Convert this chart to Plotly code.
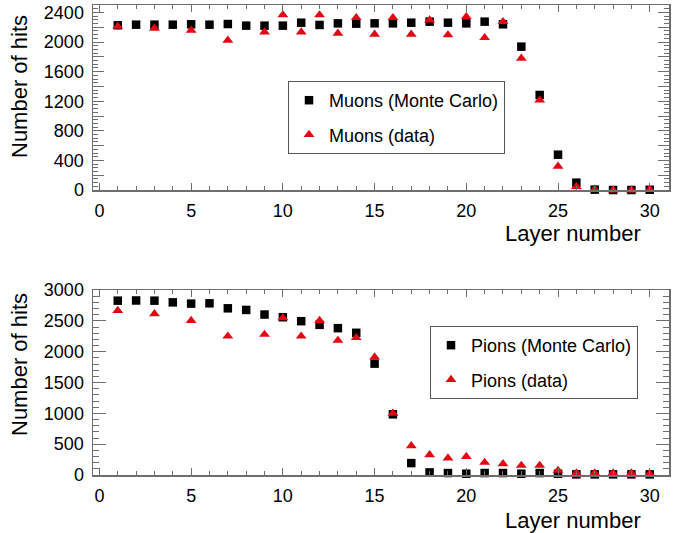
import plotly.graph_objects as go

# ---------------- data ----------------
layers = list(range(1, 31))

muon_mc = [2226, 2234, 2234, 2234, 2239, 2234, 2243, 2221, 2221, 2221,
           2261, 2230, 2252, 2248, 2252, 2252, 2261, 2275, 2261, 2252,
           2275, 2239, 1937, 1284, 477, 99, 5, 0, 0, 3]
muon_data = [2212, None, 2185, None, 2158, None, 2023, None, 2135, 2365,
             2135, 2365, 2117, 2329, 2104, 2329, 2104, 2297, 2095, 2342,
             2058, 2274, 1779, 1216, 320, 45, 10, 0, 0, 8]

pion_mc = [2827, 2830, 2827, 2800, 2779, 2784, 2703, 2677, 2602, 2558,
           2494, 2435, 2381, 2306, 1806, 984, 193, 42, 32, 21,
           32, 32, 21, 32, 20, 10, 10, 10, 10, 10]
pion_data = [2666, None, 2613, None, 2505, None, 2252, None, 2279, 2548,
             2252, 2505, 2182, 2226, 1913, 1000, 473, 327, 274, 300,
             203, 182, 156, 156, 74, 32, 32, 32, 32, 21]

muon_yticks = list(range(0, 2401, 200))
muon_yticktext = [str(v) if v % 400 == 0 else "" for v in muon_yticks]
pion_yticks = [0, 500, 1000, 1500, 2000, 2500, 3000]

# ---------------- style ----------------
FONT = "Liberation Sans, Arial, sans-serif"
RED = "#e30613"
AXC = "#6e6e6e"
W, H = 675, 533
ML, MR, MT, MB = 93, 6, 5, 58
PW = W - ML - MR
PH = H - MT - MB


def px2x(px):
    return (px - ML) / PW


def px2y(py):
    return 1 - (py - MT) / PH


fig = go.Figure()

fig.add_trace(go.Scatter(x=layers, y=muon_mc, mode="markers", name="Muons (Monte Carlo)",
                         marker=dict(symbol="square", size=8.5, color="black"),
                         xaxis="x", yaxis="y", legend="legend", legendgroup="a", cliponaxis=False))
fig.add_trace(go.Scatter(x=layers, y=muon_data, mode="markers", name="Muons (data)",
                         marker=dict(symbol="triangle-up", size=9.5, color=RED),
                         xaxis="x", yaxis="y", legend="legend", legendgroup="b", cliponaxis=False))
fig.add_trace(go.Scatter(x=layers, y=pion_mc, mode="markers", name="Pions (Monte Carlo)",
                         marker=dict(symbol="square", size=8.5, color="black"),
                         xaxis="x2", yaxis="y2", legend="legend2", legendgroup="c", cliponaxis=False))
fig.add_trace(go.Scatter(x=layers, y=pion_data, mode="markers", name="Pions (data)",
                         marker=dict(symbol="triangle-up", size=9.5, color=RED),
                         xaxis="x2", yaxis="y2", legend="legend2", legendgroup="d", cliponaxis=False))

top_dom = [px2y(190), 1.0]
bot_dom = [0.0, px2y(290)]

xcommon = dict(range=[-0.35, 31.05], tickvals=[0, 5, 10, 15, 20, 25, 30], ticks="inside",
               ticklen=7, tickwidth=1, tickcolor=AXC, showline=True, linecolor=AXC,
               linewidth=1.5, mirror="ticks", showgrid=False, zeroline=False, automargin=False,
               tickfont=dict(family=FONT, size=18, color="black"),
               minor=dict(dtick=1, ticks="inside", ticklen=4, tickcolor=AXC, showgrid=False),
               ticklabelstandoff=4)
ycommon = dict(ticks="inside", tickwidth=1, tickcolor=AXC, showline=True, linecolor=AXC,
               linewidth=1.5, mirror="ticks", showgrid=False, zeroline=False, automargin=False,
               tickfont=dict(family=FONT, size=18, color="black"), ticklabelstandoff=4)

fig.update_layout(
    width=W, height=H, autosize=False,
    margin=dict(l=ML, r=MR, t=MT, b=MB),
    paper_bgcolor="white", plot_bgcolor="white",
    xaxis=dict(domain=[0, 1], anchor="y", **xcommon),
    xaxis2=dict(domain=[0, 1], anchor="y2", **xcommon),
    yaxis=dict(domain=top_dom, anchor="x", range=[0, 2500], tickvals=muon_yticks,
               ticktext=muon_yticktext, ticklen=11,
               minor=dict(dtick=50, ticks="inside", ticklen=5, tickcolor=AXC, showgrid=False),
               **ycommon),
    yaxis2=dict(domain=bot_dom, anchor="x2", range=[0, 3000], tickvals=pion_yticks, ticklen=13,
                minor=dict(dtick=100, ticks="inside", ticklen=6, tickcolor=AXC, showgrid=False),
                **ycommon),
    legend=dict(x=px2x(288), y=px2y(81), xanchor="left", yanchor="top",
                bordercolor="#555", borderwidth=1, bgcolor="white",
                font=dict(family=FONT, size=18, color="black"), tracegroupgap=8,
                itemclick=False),
    legend2=dict(x=px2x(430), y=px2y(326), xanchor="left", yanchor="top",
                 bordercolor="#555", borderwidth=1, bgcolor="white",
                 font=dict(family=FONT, size=18, color="black"), tracegroupgap=8,
                 itemclick=False),
    showlegend=True,
)

ann_font = dict(family=FONT, size=22, color="black")
for (txt, xp, yp, ang) in [("Number of hits", 19, 87, -90),
                           ("Number of hits", 19, 365, -90),
                           ("Layer number", 573, 233, 0),
                           ("Layer number", 573, 520, 0)]:
    fig.add_annotation(text=txt, xref="paper", yref="paper", x=px2x(xp), y=px2y(yp),
                       xanchor="center", yanchor="middle", showarrow=False,
                       textangle=ang, font=ann_font)

fig.write_html("out.html",
               config={"displayModeBar": False, "staticPlot": True},
               post_script="document.body.style.margin='0';document.body.style.padding='0';"
                           "document.documentElement.style.overflow='hidden';")
